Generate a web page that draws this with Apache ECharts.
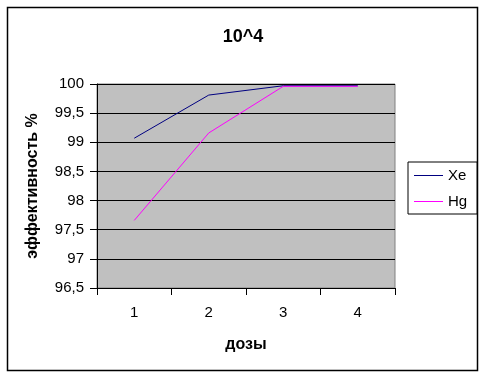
<!DOCTYPE html>
<html>
<head>
<meta charset="utf-8">
<script src="https://cdn.jsdelivr.net/npm/echarts@6/dist/echarts.min.js"></script>
<style>
  html, body { margin: 0; padding: 0; background: #fff; }
  #main { width: 486px; height: 378px; }
</style>
</head>
<body>
<div id="main"></div>
<script>
// данные с картинки
const doses = ['1', '2', '3', '4'];
const xeValues = [99.07, 99.81, 99.97, 99.97];
const hgValues = [97.66, 99.16, 99.96, 99.96];
const yMin = 96.5;
const yMax = 100;
const yStep = 0.5;

const chart = echarts.init(document.getElementById('main'));
const font = 'Arial, "Liberation Sans", sans-serif';

chart.setOption({
  backgroundColor: '#fff',
  animation: false,
  title: {
    text: '10^4',
    left: 'center',
    top: 23,
    textStyle: { fontFamily: font, fontSize: 18, fontWeight: 'bold', color: '#000' }
  },
  graphic: [{
    type: 'rect',
    shape: { x: 7.5, y: 7.5, width: 470, height: 363 },
    style: { fill: 'none', stroke: '#000', lineWidth: 1.5 },
    silent: true
  }],
  legend: {
    orient: 'vertical',
    left: 408,
    top: 162,
    icon: 'rect',
    itemWidth: 29,
    itemHeight: 1,
    itemGap: 11,
    padding: [6, 10, 5, 6],
    borderColor: '#000',
    borderWidth: 1,
    textStyle: { fontFamily: font, fontSize: 15, color: '#000' },
    data: ['Xe', 'Hg']
  },
  grid: {
    left: 97,
    right: 91,
    top: 84,
    bottom: 90,
    show: true,
    backgroundColor: '#c0c0c0',
    borderColor: '#808080',
    borderWidth: 1
  },
  xAxis: {
    type: 'category',
    data: doses,
    boundaryGap: true,
    name: 'дозы',
    nameLocation: 'middle',
    nameGap: 49,
    nameTextStyle: { fontFamily: font, fontSize: 16, fontWeight: 'bold', color: '#000' },
    axisLine: { lineStyle: { color: '#000', width: 1 } },
    axisTick: { show: true, length: 7, lineStyle: { color: '#000' } },
    axisLabel: { margin: 17, fontFamily: font, fontSize: 15, color: '#000' },
    splitLine: { show: false }
  },
  yAxis: {
    type: 'value',
    min: yMin,
    max: yMax,
    interval: yStep,
    name: 'эффективность %',
    nameLocation: 'middle',
    nameGap: 56,
    nameTextStyle: { fontFamily: font, fontSize: 16, fontWeight: 'bold', color: '#000' },
    axisLine: { show: true, lineStyle: { color: '#000', width: 1 } },
    axisTick: { show: true, length: 7, lineStyle: { color: '#000' } },
    axisLabel: {
      margin: 13,
      fontFamily: font,
      fontSize: 15,
      color: '#000',
      formatter: v => String(v).replace('.', ',')
    },
    splitLine: { show: true, lineStyle: { color: '#000', width: 1 } }
  },
  series: [
    {
      name: 'Xe',
      type: 'line',
      data: xeValues,
      symbol: 'none',
      color: '#000080',
      lineStyle: { color: '#000080', width: 1 }
    },
    {
      name: 'Hg',
      type: 'line',
      data: hgValues,
      symbol: 'none',
      color: '#ff00ff',
      lineStyle: { color: '#ff00ff', width: 1 }
    }
  ]
});
</script>
</body>
</html>
